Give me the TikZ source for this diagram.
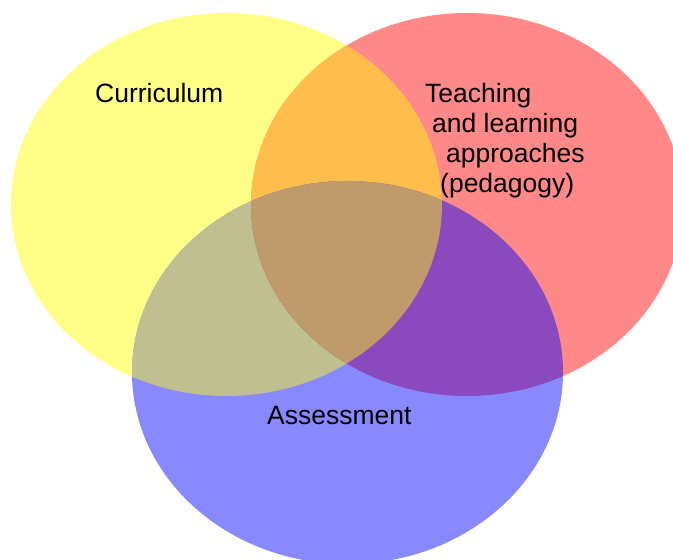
\documentclass[tikz,border=0pt]{standalone}
\usepackage{fontspec}
\setmainfont{Liberation Sans}
\definecolor{cY}{RGB}{255,255,136}
\definecolor{cR}{RGB}{255,136,136}
\definecolor{cB}{RGB}{137,137,255}
\definecolor{cYR}{RGB}{255,190,75}
\definecolor{cYB}{RGB}{191,191,143}
\definecolor{cRB}{RGB}{138,74,190}
\definecolor{cYRB}{RGB}{191,154,107}
\begin{document}
\begin{tikzpicture}[x=1pt,y=1pt,
  lbl/.style={inner sep=0pt,anchor=base west,font=\fontsize{26.5}{30}\selectfont,align=left}]
\useasboundingbox (0,0) rectangle (673,560);
\def\pY{(226.5,355.5) ellipse [x radius=215.5, y radius=191.5]}
\def\pR{(467,355.5) ellipse [x radius=216, y radius=191.5]}
\def\pB{(347.5,187.5) ellipse [x radius=215.5, y radius=191.5]}
\fill[cY] \pY;
\fill[cR] \pR;
\fill[cB] \pB;
\begin{scope}\clip \pY; \fill[cYR] \pR; \end{scope}
\begin{scope}\clip \pY; \fill[cYB] \pB; \end{scope}
\begin{scope}\clip \pR; \fill[cRB] \pB; \end{scope}
\begin{scope}\clip \pY; \clip \pR; \fill[cYRB] \pB; \end{scope}
\node[lbl] (cur) at (95,457) {Curriculum};
\node[lbl] (teach) at (425,367) {Teaching\\\hspace*{7pt}and learning\\\hspace*{21pt}approaches\\\hspace*{15pt}(pedagogy)};
\node[lbl] (ass) at (267,135) {Assessment};
\end{tikzpicture}
\end{document}
